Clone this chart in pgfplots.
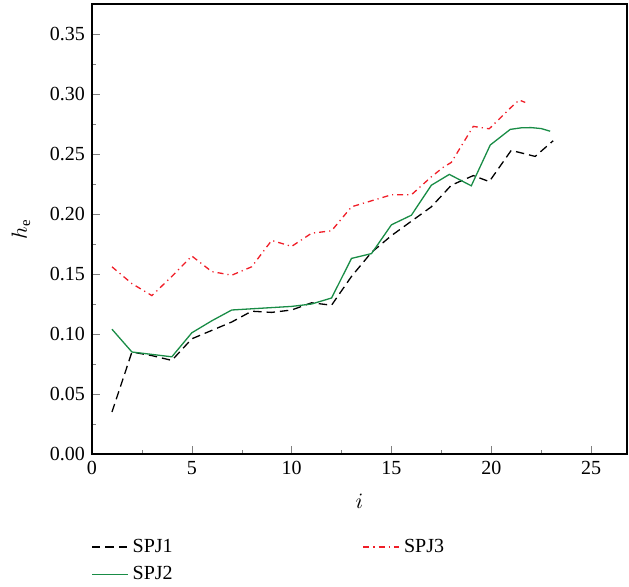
\documentclass[border=0pt]{standalone}
\usepackage{pgfplots}
\pgfplotsset{compat=1.18}
\usepackage{fontspec}
\setmainfont{Liberation Serif}
\definecolor{spjgreen}{RGB}{25,140,70}
\definecolor{spjred}{RGB}{240,30,40}
\begin{document}
\begin{tikzpicture}
\begin{axis}[
  scale only axis,
  width=267.5pt, height=225pt,
  xmin=0, xmax=26.8, ymin=0, ymax=0.375,
  xtick={0,5,...,25}, ytick={0,0.05,...,0.35},
  minor x tick num=1, minor y tick num=1,
  tick pos=left, tick align=inside,
  major tick length=4pt, minor tick length=2pt,
  /pgf/number format/assume math mode=true,
  yticklabel style={/pgf/number format/fixed,/pgf/number format/fixed zerofill,/pgf/number format/precision=2},
  ticklabel style={font=\fontsize{10}{12}\selectfont},
  xlabel={$i$}, ylabel={$h_{\mathrm{e}}$},
  label style={font=\fontsize{10.5}{12}\selectfont},
  xlabel style={yshift=-3pt},
  ylabel style={yshift=3pt},
  axis line style={line width=0.6pt},
  legend style={at={(0,-0.17)}, xshift=-3.5pt, anchor=north west, draw=none, fill=none,
    font=\fontsize{10}{12}\selectfont, row sep=1.5pt,
    /tikz/every even column/.append style={column sep=93pt}},
  legend columns=2,
  legend cell align=left,
  legend image code/.code={\draw[#1] (0pt,0pt) -- (18pt,0pt);},
]
\addplot[black, line width=0.65pt, dash pattern=on 4.2pt off 2.5pt] coordinates {
(1,0.035) (2,0.085) (3,0.082) (4,0.078) (5,0.096) (6,0.103) (7,0.110) (8,0.119)
(9,0.118) (10,0.120) (11,0.126) (12,0.124) (13,0.148) (14,0.168) (15,0.182)
(16,0.194) (17,0.206) (18,0.224) (19.1,0.232) (19.9,0.227) (21,0.253) (22.2,0.248) (23.1,0.261)};
\addlegendentry{SPJ1}
\addplot[spjred, line width=0.65pt, dash pattern=on 3pt off 2pt on 0.6pt off 2pt] coordinates {
(1,0.156) (2,0.142) (3,0.132) (4,0.148) (5,0.165) (6,0.152) (7,0.149) (8,0.156)
(9,0.178) (10,0.173) (11,0.184) (12,0.186) (13,0.206) (14,0.211) (15,0.216)
(16,0.216) (17,0.231) (17.6,0.239) (18,0.243) (19.1,0.273) (19.9,0.271) (21,0.289) (21.4,0.295) (21.7,0.293)};
\addlegendentry{SPJ3}
\addplot[spjgreen, line width=0.65pt] coordinates {
(1,0.104) (2,0.085) (3,0.083) (4,0.081) (5,0.101) (6,0.111) (7,0.120) (8,0.121)
(9,0.122) (10,0.123) (11,0.125) (12,0.130) (13,0.163) (14,0.167) (15,0.191)
(16,0.199) (17,0.224) (17.9,0.233) (19,0.2235) (19.95,0.2575) (20.95,0.2705)
(21.5,0.2718) (22,0.272) (22.5,0.2712) (22.95,0.269)};
\addlegendentry{SPJ2}
\end{axis}
\pgfresetboundingbox
\useasboundingbox (-46pt,-66pt) rectangle (268.5pt,227pt);
\end{tikzpicture}
\end{document}
